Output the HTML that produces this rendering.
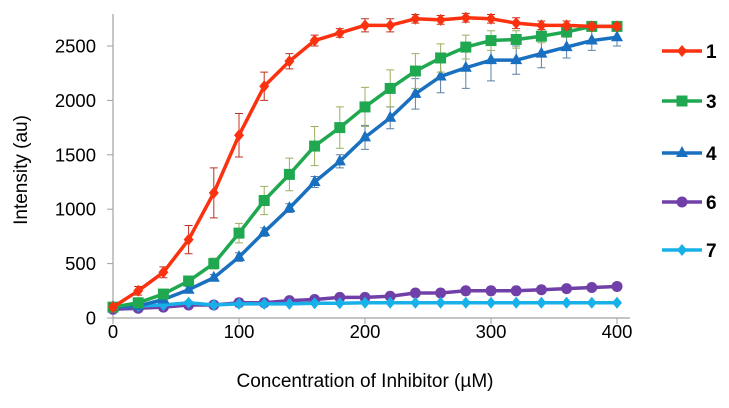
<!DOCTYPE html>
<html><head><meta charset="utf-8"><style>
body{margin:0;background:#fff;width:729px;height:403px;overflow:hidden}
svg{font-family:"Liberation Sans",sans-serif}
</style></head><body>
<svg id="chart" width="729" height="403" xmlns="http://www.w3.org/2000/svg"></svg>
<script>
const xVals=[0,20,40,60,80,100,120,140,160,180,200,220,240,260,280,300,320,340,360,380,400];
const s1=[100,250,420,720,1150,1680,2130,2360,2550,2620,2690,2690,2750,2740,2760,2750,2710,2690,2690,2680,2680];
const e1=[30,40,50,130,230,200,130,70,50,40,60,60,40,40,40,40,50,40,40,30,30];
const s3=[100,140,220,340,500,780,1080,1320,1580,1750,1940,2110,2270,2390,2490,2550,2560,2590,2630,2680,2680];
const e3=[20,30,30,40,50,90,130,150,180,190,180,170,160,130,110,90,80,60,50,40,40];
const s4=[100,110,170,260,370,560,790,1010,1250,1440,1660,1840,2060,2220,2300,2370,2370,2430,2490,2550,2580];
const e4=[20,20,20,30,30,40,40,40,50,60,110,100,140,150,190,190,130,130,100,90,80];
const s6=[80,90,100,120,120,140,140,160,170,190,190,200,230,230,250,250,250,260,270,280,290];
const s7=[100,110,120,140,120,130,130,130,135,135,140,140,140,140,140,140,140,140,140,140,140];
const yTicks=[0,500,1000,1500,2000,2500];
const xTicks=[0,100,200,300,400];
const seriesNames=["1","3","4","6","7"];

const svg=document.getElementById('chart');
const NS="http://www.w3.org/2000/svg";
const X=v=>113+v*1.26;
const Y=v=>318-v*0.1088;
function mk(t,a,p){const e=document.createElementNS(NS,t);for(const k in a)e.setAttribute(k,a[k]);(p||svg).appendChild(e);return e;}

let ax=mk('line',{x1:113,y1:14,x2:113,y2:318,stroke:'#a0a0a0','stroke-width':1.2});


let bx=mk('line',{x1:113,y1:318,x2:630,y2:318,stroke:'#a0a0a0','stroke-width':1.2});


yTicks.forEach(v=>{
  mk('line',{x1:107,x2:113,y1:Y(v),y2:Y(v),stroke:'#a0a0a0'});
  const t=mk('text',{x:96,y:Y(v)+6.5,'text-anchor':'end','font-size':18.5,fill:'#000'});t.textContent=v;
  
  
});
xTicks.forEach(v=>{
  mk('line',{x1:X(v),x2:X(v),y1:318,y2:324,stroke:'#a0a0a0'});
  const t=mk('text',{x:X(v),y:338,'text-anchor':'middle','font-size':18.5,fill:'#000'});t.textContent=v;
  
  
});
let xt=mk('text',{x:365,y:387,'text-anchor':'middle','font-size':19,fill:'#000'});xt.textContent='Concentration of Inhibitor (µM)';


let yt=mk('text',{x:0,y:0,'text-anchor':'middle','font-size':19,fill:'#000',transform:'translate(27,170) rotate(-90)'});yt.textContent='Intensity (au)';



function marker(g,type,x,y,c){
  if(type==='diamond')mk('polygon',{points:`${x},${y-6} ${x+5},${y} ${x},${y+6} ${x-5},${y}`,fill:c},g);
  else if(type==='square')mk('rect',{x:x-5.5,y:y-5.5,width:11,height:11,fill:c},g);
  else if(type==='triangle')mk('polygon',{points:`${x},${y-7} ${x+6},${y+4} ${x-6},${y+4}`,fill:c},g);
  else mk('circle',{cx:x,cy:y,r:5.5,fill:c},g);
}
const series=[[s1,e1,'#fa3210','#c03020','diamond'],[s3,e3,'#20a850','#9ab060','square'],[s4,e4,'#1a70c0','#5a80a8','triangle'],[s6,null,'#7040a8','#7040a8','circle'],[s7,null,'#18b0e8','#555','diamond']];
const order=[3,4,2,1,0];
order.forEach(i=>{
  const [d,e,c,ec,m]=series[i];
  const g=mk('g',{});
  
  
  if(e) xVals.forEach((x,j)=>{
    const px=X(x),a=Y(d[j]+e[j]),b=Y(d[j]-e[j]);
    mk('path',{d:`M${px},${a}V${b}M${px-4},${a}H${px+4}M${px-4},${b}H${px+4}`,stroke:ec,'stroke-width':1,fill:'none'},g);
  });
  mk('polyline',{points:xVals.map((x,j)=>X(x)+','+Y(d[j])).join(' '),fill:'none',stroke:c,'stroke-width':3.5,'stroke-linejoin':'round'},g);
  xVals.forEach((x,j)=>marker(g,m,X(x),Y(d[j]),c));
});
const ly=[51,101,153,202,250];
series.forEach((s,i)=>{
  const g=mk('g',{});
  
  
  mk('line',{x1:662,x2:702,y1:ly[i],y2:ly[i],stroke:s[2],'stroke-width':3.5},g);
  marker(g,s[4],682,ly[i],s[2]);
  const t=mk('text',{x:706,y:ly[i]+7,'font-size':19,'font-weight':'bold',fill:'#000'},g);t.textContent=seriesNames[i];
});
</script>
</body></html>
